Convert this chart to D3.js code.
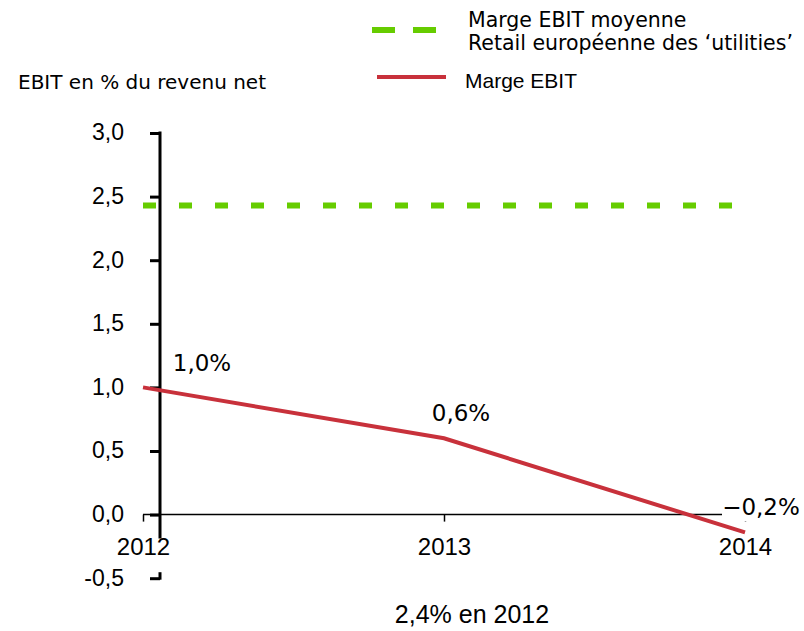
<!DOCTYPE html>
<html>
<head>
<meta charset="utf-8">
<script src="https://cdn.jsdelivr.net/npm/d3@7"></script>
<style>
  body { margin: 0; background: #fff; }
  svg { display: block; }
</style>
</head>
<body>
<svg id="chart" width="804" height="631"></svg>
<script>
// données
var years = [2012, 2013, 2014];
var margeEbit = [1.0, 0.6, -0.14];
var margeLabels = ["1,0%", "0,6%", "\u22120,2%"];
var moyenneRetail = 2.43;
var yTicks = [-0.5, 0, 0.5, 1.0, 1.5, 2.0, 2.5, 3.0];

var svg = d3.select("#chart");

var x = d3.scaleLinear().domain([2012, 2014]).range([143, 745]);
var y = d3.scaleLinear().domain([-0.5, 3]).range([578.2, 133]);

var fr = d3.formatLocale({ decimal: ",", thousands: " ", grouping: [3], currency: ["", " €"], minus: "-" });
var fmt = fr.format(".1f");

var red = "#c8313b", green = "#66cc00";

// titre de l'axe
svg.append("text")
    .attr("x", 18).attr("y", 89)
    .style("font-family", "DejaVu Sans").style("font-size", "20px")
    .text("EBIT en % du revenu net");

// légende
svg.append("line")
    .attr("x1", 372).attr("x2", 437).attr("y1", 30).attr("y2", 30)
    .style("stroke", green).style("stroke-width", 6)
    .style("stroke-dasharray", "23,18");
svg.append("text")
    .attr("x", 468).attr("y", 27)
    .style("font-family", "DejaVu Sans").style("font-size", "20.5px")
    .text("Marge EBIT moyenne");
svg.append("text")
    .attr("x", 468).attr("y", 50)
    .style("font-family", "DejaVu Sans").style("font-size", "20.5px")
    .text("Retail européenne des \u2018utilities\u2019");
svg.append("line")
    .attr("x1", 377).attr("x2", 446).attr("y1", 77).attr("y2", 77)
    .style("stroke", red).style("stroke-width", 4);
svg.append("text")
    .attr("x", 465).attr("y", 88)
    .style("font-family", "Liberation Sans, Arial").style("font-size", "21px")
    .text("Marge EBIT");

// axe des x
var xAxis = svg.append("g")
    .attr("transform", "translate(0," + y(0) + ")")
    .call(d3.axisBottom(x).tickValues(years).tickFormat(d3.format("d"))
        .tickSize(7).tickSizeOuter(0).tickPadding(16));
xAxis.select(".domain").remove();
xAxis.append("line")
    .attr("x1", x(2012)).attr("x2", x(2014)).attr("y1", 0).attr("y2", 0)
    .style("stroke", "#000").style("stroke-width", 1.5);
xAxis.selectAll(".tick line").style("stroke", "#000").style("stroke-width", 1.5);
xAxis.selectAll(".tick text")
    .style("font-family", "Liberation Sans, Arial").style("font-size", "24px").style("fill", "#000");

// axe des y (coupé sous zéro)
var yAxis = svg.append("g")
    .attr("transform", "translate(160,0)")
    .call(d3.axisLeft(y).tickValues(yTicks).tickFormat(fmt).tickSize(10).tickPadding(26));
yAxis.select(".domain").remove();
yAxis.selectAll(".tick line").style("stroke", "#000").style("stroke-width", 3);
yAxis.selectAll(".tick text")
    .attr("dy", "0.3em")
    .style("font-family", "Liberation Sans, Arial").style("font-size", "23px").style("fill", "#000");
yAxis.append("line")
    .attr("x1", 0).attr("x2", 0).attr("y1", y(3) - 1.5).attr("y2", y(0) + 24)
    .style("stroke", "#000").style("stroke-width", 3);
yAxis.append("line")
    .attr("x1", 0).attr("x2", 0).attr("y1", y(-0.5) - 6).attr("y2", y(-0.5) + 1.5)
    .style("stroke", "#000").style("stroke-width", 3);

// moyenne retail
svg.append("line")
    .attr("x1", x(2012)).attr("x2", x(2014))
    .attr("y1", y(moyenneRetail)).attr("y2", y(moyenneRetail))
    .style("stroke", green).style("stroke-width", 6)
    .style("stroke-dasharray", "13,23");

// marge EBIT
var line = d3.line()
    .x(function (d, i) { return x(years[i]); })
    .y(function (d) { return y(d); });
svg.append("path")
    .datum(margeEbit)
    .attr("d", line)
    .style("fill", "none").style("stroke", red).style("stroke-width", 4);

// étiquettes
var labelDx = [59, 17, 16];
var labelDy = [-16, -17, -17];
var lbl = svg.append("g").selectAll("g")
    .data(margeEbit)
    .enter().append("g")
    .attr("transform", function (d, i) {
        return "translate(" + (x(years[i]) + labelDx[i]) + "," + (y(d) + labelDy[i]) + ")";
    });
lbl.filter(function (d, i) { return i === 2; })
    .append("rect")
    .attr("x", -39).attr("y", -19).attr("width", 80).attr("height", 25)
    .style("fill", "#fff");
lbl.append("text")
    .attr("text-anchor", "middle")
    .style("font-family", "DejaVu Sans").style("font-size", "23px")
    .text(function (d, i) { return margeLabels[i]; });

// note
svg.append("text")
    .attr("x", 472).attr("y", 623)
    .attr("text-anchor", "middle")
    .style("font-family", "Liberation Sans, Arial").style("font-size", "25px")
    .text("2,4% en 2012");
</script>
</body>
</html>
